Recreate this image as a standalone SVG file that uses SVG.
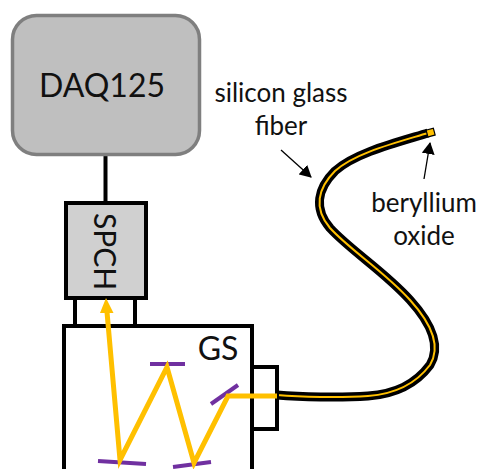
<svg xmlns="http://www.w3.org/2000/svg" width="478" height="469" viewBox="0 0 478 469">
<style>
text{font-family:Lato,"Liberation Sans",sans-serif;fill:#111}
.box{fill:none;stroke:#000;stroke-width:4}
.beam{fill:none;stroke:#ffc000;stroke-width:5;stroke-linejoin:miter}
.mirror{stroke:#7030a0;stroke-width:4;fill:none}
.lbl{font-size:26px;text-anchor:middle}
.thin{stroke:#000;stroke-width:1.3;fill:none}
.fiber{fill:none}
</style>
<defs>
<marker id="tip" markerUnits="userSpaceOnUse" markerWidth="12" markerHeight="13" refX="11" refY="6.500" orient="auto"><path d="M0,0L12,6.500L0,13Z" fill="#000"/></marker>
</defs>
<rect width="478" height="469" fill="#fff"/>
<g id="connectors">
<path d="M105.500 155V203" fill="none" stroke="#000" stroke-width="4"/>
<path class="fiber" stroke="#000" stroke-width="9" d="M277 395C300 397 340 398 368 396C395 394 415 385 430 365C442 345 430 322 410 300C385 272 350 250 330 228C313 208 318 188 335 171C355 153 395 143 428 133"/>
<path class="fiber" stroke="#ffc000" stroke-width="2" d="M277 395C300 397 340 398 368 396C395 394 415 385 430 365C442 345 430 322 410 300C385 272 350 250 330 228C313 208 318 188 335 171C355 153 395 143 428 133"/>
<path class="thin" d="M281 150L311 177" marker-end="url(#tip)"/>
<path class="thin" d="M424 179L430 143" marker-end="url(#tip)"/>
</g>
<g id="daq125">
<rect x="12.500" y="15.500" width="187" height="139" rx="24" fill="#bfbfbf" stroke="#7f7f7f" stroke-width="3.500"/>
<text x="102" y="97" font-size="32" text-anchor="middle">DAQ125</text>
</g>
<g id="gs-inlet"><rect class="box" x="75" y="298" width="60" height="28"/></g>
<g id="spch">
<rect x="66" y="203" width="80" height="95" fill="#d0d0d0" stroke="#000" stroke-width="4"/>
<text transform="translate(94,251.500) rotate(90)" font-size="30" text-anchor="middle">SPCH</text>
</g>
<g id="gs">
<path class="box" d="M64 471V326H252V471"/>
<text x="218" y="360" font-size="32" text-anchor="middle">GS</text>
</g>
<g id="gs-port"><path class="box" d="M252 367H277V429H252"/></g>
<g id="mirrors">
<path class="mirror" d="M98 461L146 464"/>
<path class="mirror" d="M150 364H185"/>
<path class="mirror" d="M173 467L211 462"/>
<path class="mirror" d="M211 404L238 385"/>
</g>
<g id="beam">
<path class="beam" d="M277 396H228L194 463L167 367L120 460L107 312"/>
<path d="M106 298L113.500 313H100Z" fill="#ffc000"/>
</g>
<rect id="fiber-tip" x="427" y="129" width="7.500" height="7" fill="#ffc000" stroke="#000" stroke-width="1.200" transform="rotate(-15 431 133)"/>
<text class="lbl" x="281" y="102">silicon glass</text>
<text class="lbl" x="281" y="135">fiber</text>
<text class="lbl" x="424" y="212">beryllium</text>
<text class="lbl" x="424" y="245">oxide</text>
</svg>
